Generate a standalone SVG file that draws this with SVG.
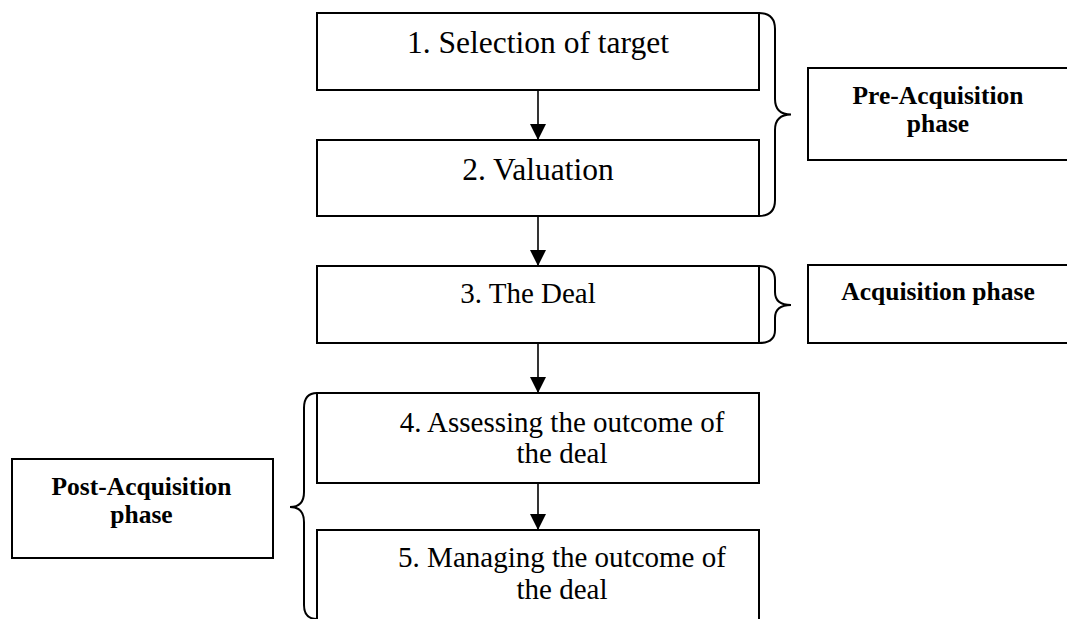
<svg xmlns="http://www.w3.org/2000/svg" width="1067" height="619" viewBox="0 0 1067 619">
  <style>
    .box { fill: #ffffff; stroke: #000000; stroke-width: 2; }
    .brace { fill: none; stroke: #000000; stroke-width: 2; }
    .link { fill: none; stroke: #000000; stroke-width: 1.6; }
    .step { font-family: "Liberation Serif", "Times New Roman", serif; font-size: 29px; fill: #000000; text-anchor: middle; }
    .step-lg { font-size: 31.5px; }
    .phase { font-family: "Liberation Serif", "Times New Roman", serif; font-size: 25.5px; font-weight: bold; fill: #000000; text-anchor: middle; }
  </style>
  <defs>
    <marker id="head" viewBox="0 0 16 16" refX="16" refY="8" markerWidth="16" markerHeight="16" markerUnits="userSpaceOnUse" orient="auto">
      <path d="M0,0 L16,8 L0,16 Z" fill="#000000"/>
    </marker>
  </defs>

  <rect x="0" y="0" width="1067" height="619" fill="#ffffff"/>

  <!-- process steps -->
  <g id="step1">
    <rect class="box" x="317" y="13" width="442" height="77"/>
    <text class="step step-lg" x="538" y="53">1. Selection of target</text>
  </g>
  <g id="step2">
    <rect class="box" x="317" y="140" width="442" height="76"/>
    <text class="step step-lg" x="538" y="180">2. Valuation</text>
  </g>
  <g id="step3">
    <rect class="box" x="317" y="266" width="442" height="77"/>
    <text class="step" x="528" y="303">3. The Deal</text>
  </g>
  <g id="step4">
    <rect class="box" x="317" y="393" width="442" height="90"/>
    <text class="step" x="562" y="432">4. Assessing the outcome of</text>
    <text class="step" x="562" y="463">the deal</text>
  </g>
  <g id="step5">
    <rect class="box" x="317" y="530" width="442" height="100"/>
    <text class="step" x="562" y="567">5. Managing the outcome of</text>
    <text class="step" x="562" y="599">the deal</text>
  </g>

  <!-- phase labels -->
  <g id="pre-acquisition">
    <rect class="box" x="808" y="68" width="280" height="92"/>
    <text class="phase" x="938" y="104">Pre-Acquisition</text>
    <text class="phase" x="938" y="132">phase</text>
  </g>
  <g id="acquisition">
    <rect class="box" x="808" y="265" width="280" height="78"/>
    <text class="phase" x="938" y="300">Acquisition phase</text>
  </g>
  <g id="post-acquisition">
    <rect class="box" x="12" y="459" width="261" height="99"/>
    <text class="phase" x="141.5" y="495">Post-Acquisition</text>
    <text class="phase" x="141.5" y="523">phase</text>
  </g>

  <!-- connectors: flow arrows and grouping braces -->
  <g id="connectors">
    <line class="link" x1="538" y1="90" x2="538" y2="140" marker-end="url(#head)"/>
    <line class="link" x1="538" y1="216" x2="538" y2="266" marker-end="url(#head)"/>
    <line class="link" x1="538" y1="343" x2="538" y2="393" marker-end="url(#head)"/>
    <line class="link" x1="538" y1="483" x2="538" y2="530" marker-end="url(#head)"/>

    <path class="brace" d="M759 13 Q775 13 775 29 L775 99 Q775 114.5 791 114.5 Q775 114.5 775 130 L775 200 Q775 216 759 216"/>
    <path class="brace" d="M759 266 Q775 266 775 280 L775 292 Q775 305 791 305 Q775 305 775 318 L775 330 Q775 343 759 343"/>
    <path class="brace" d="M317 393 Q304 393 304 408 L304 492 Q304 507 290 507 Q304 507 304 522 L304 605 Q304 619 317 619"/>
  </g>
</svg>
